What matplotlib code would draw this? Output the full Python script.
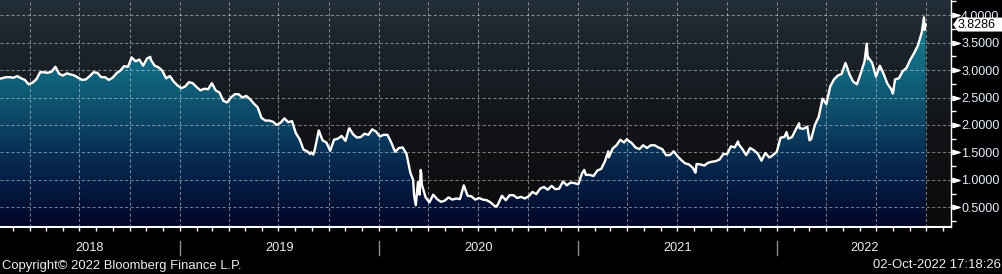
import numpy as np
import pandas as pd
import matplotlib
matplotlib.use('Agg')
import matplotlib.pyplot as plt
import matplotlib.dates as mdates
from matplotlib.colors import LinearSegmentedColormap
from matplotlib.transforms import blended_transform_factory, IdentityTransform
from matplotlib.patches import Polygon
from matplotlib.ticker import MultipleLocator, FixedLocator, FuncFormatter, NullFormatter

# ---------------- data (weekly closes) ----------------
vals_2018 = [2.84, 2.85, 2.87, 2.87, 2.86, 2.89, 2.85, 2.82, 2.74, 2.77, 2.83, 2.96,
             2.96, 2.95, 2.97, 3.06, 2.93, 2.90, 2.94, 2.92, 2.90, 2.86, 2.82, 2.83,
             2.89, 2.96, 2.95, 2.87, 2.87, 2.82, 2.86, 2.94, 2.99, 3.07, 3.06, 3.23,
             3.16, 3.19, 3.08, 3.21, 3.19, 3.08, 3.05, 2.99, 2.85, 2.89, 2.79, 2.72]
vals_2019 = [2.67, 2.70, 2.78, 2.76, 2.69, 2.63, 2.66, 2.65, 2.76, 2.63, 2.59, 2.44,
             2.41, 2.50, 2.56, 2.56, 2.50, 2.53, 2.47, 2.39, 2.32, 2.13, 2.08, 2.08,
             2.06, 2.00, 2.04, 2.12, 2.05, 2.07, 1.85, 1.74, 1.55, 1.52, 1.50, 1.56,
             1.90, 1.72, 1.68, 1.53, 1.73, 1.75, 1.80, 1.71, 1.94, 1.83, 1.77, 1.78,
             1.84, 1.82, 1.92, 1.88]
vals_2020 = [1.79, 1.82, 1.82, 1.68, 1.51, 1.58, 1.59, 1.47, 1.13, 0.71, 0.96, 0.92,
             0.68, 0.59, 0.73, 0.65, 0.60, 0.62, 0.68, 0.64, 0.66, 0.65, 0.90, 0.71,
             0.70, 0.64, 0.67, 0.64, 0.63, 0.59, 0.53, 0.56, 0.71, 0.63, 0.72, 0.72,
             0.67, 0.69, 0.66, 0.70, 0.78, 0.74, 0.84, 0.87, 0.82, 0.89, 0.83, 0.84,
             0.97, 0.90, 0.95, 0.94]
vals_2021 = [0.92, 1.12, 1.09, 1.09, 1.07, 1.17, 1.20, 1.34, 1.41, 1.57, 1.63, 1.73,
             1.68, 1.72, 1.67, 1.59, 1.56, 1.63, 1.58, 1.63, 1.63, 1.59, 1.56, 1.45,
             1.45, 1.52, 1.43, 1.36, 1.30, 1.28, 1.22, 1.29, 1.28, 1.26, 1.31, 1.33,
             1.34, 1.37, 1.47, 1.47, 1.61, 1.59, 1.65, 1.56, 1.45, 1.58, 1.54, 1.48,
             1.35, 1.49, 1.41, 1.45, 1.51]
vals_2022 = [1.77, 1.78, 1.75, 1.78, 1.92, 1.94, 1.93, 1.97, 1.74, 2.00, 2.15, 2.48,
             2.38, 2.70, 2.83, 2.90, 2.93, 3.13, 2.93, 2.79, 2.74, 2.94, 3.16, 3.23,
             3.13, 2.88, 3.08, 2.93, 2.75, 2.65, 2.83, 2.85, 2.98, 3.04, 3.19, 3.31,
             3.45, 3.69, 3.8286]
year_starts = ['2018-02-02', '2019-01-04', '2020-01-03', '2021-01-01', '2022-01-07']
year_vals = [vals_2018, vals_2019, vals_2020, vals_2021, vals_2022]

# intra-week extremes visible on the chart
extra_dates = ['2018-11-08', '2019-08-28', '2019-09-03', '2019-11-07',
               '2020-03-04', '2020-03-09', '2020-03-16', '2020-03-18', '2020-03-19',
               '2020-08-04', '2021-01-12', '2021-02-25', '2021-03-31', '2021-08-04',
               '2021-10-21', '2021-12-20', '2022-01-18', '2022-02-10', '2022-03-01',
               '2022-05-09', '2022-05-26', '2022-06-14', '2022-06-16', '2022-08-01',
               '2022-09-27', '2022-09-28', '2022-09-29']
extra_vals = [3.24, 1.47, 1.46, 1.92,
              1.00, 0.54, 0.73, 1.18, 1.12,
              0.51, 1.18, 1.52, 1.74, 1.13,
              1.70, 1.42, 1.87, 2.03, 1.72,
              3.05, 2.75, 3.48, 3.20, 2.57,
              3.96, 3.73, 3.78]

year_labels = ['2018', '2019', '2020', '2021', '2022']
y_ticks = [0.5, 1.0, 1.5, 2.0, 2.5, 3.0, 3.5, 4.0]
last_label = '3.8286'

# ---------------- build series ----------------
idx, vv = [], []
for s, v in zip(year_starts, year_vals):
    idx.extend(pd.date_range(s, periods=len(v), freq='7D'))
    vv.extend(v)
series = pd.Series(vv, index=pd.DatetimeIndex(idx))
extra = pd.Series(extra_vals, index=pd.to_datetime(extra_dates))
series = pd.concat([series, extra]).sort_index()
series = series[~series.index.duplicated(keep='last')]
xs = mdates.date2num(series.index.to_pydatetime())
ys = series.values

# ---------------- figure ----------------
W, H = 1003, 274
DPI = 100
plt.rcParams['font.family'] = ['Liberation Sans', 'DejaVu Sans']
fig = plt.figure(figsize=(W / DPI, H / DPI), dpi=DPI, facecolor='black')
ax_bottom_px = 47.3
ax = fig.add_axes([0, ax_bottom_px / H, 951 / W, 1 - ax_bottom_px / H])
ax.set_facecolor('black')

base = mdates.date2num(pd.Timestamp('2019-01-01'))
ppd = (777.3 - 179.7) / 1096.0
x0 = base - 179.7 / ppd
x1 = base + (951 - 179.7) / ppd
ymin, ymax = 0.1466, 4.276

# background gradient
bg_cmap = LinearSegmentedColormap.from_list('bg', [(0.0, '#0b0b0d'), (0.45, '#121417'),
                                                    (1.0, '#222e38')])
grad = np.linspace(1, 0, 256).reshape(-1, 1)
ax.imshow(grad, cmap=bg_cmap, extent=[x0, x1, ymin, ymax], aspect='auto',
          zorder=0, interpolation='bilinear', vmin=0, vmax=1)

# fill gradient clipped to area under curve
def vnorm(v):
    return (v - ymin) / (ymax - ymin)
fill_cmap = LinearSegmentedColormap.from_list('fill', [
    (0.0, '#010528'), (vnorm(1.0), '#051e44'), (vnorm(1.5), '#082f55'),
    (vnorm(2.2), '#0d4b69'), (vnorm(2.9), '#11647d'), (vnorm(3.5), '#147387'),
    (1.0, '#198595')])
poly = ax.fill_between(xs, ys, ymin, facecolor='none', edgecolor='none')
path = poly.get_paths()[0]
im = ax.imshow(grad, cmap=fill_cmap, extent=[x0, x1, ymin, ymax], aspect='auto',
               zorder=1, interpolation='bilinear', vmin=0, vmax=1)
im.set_clip_path(path, transform=ax.transData)

ax.plot(xs, ys, color='white', lw=1.7, zorder=3, solid_joinstyle='round')

ax.set_xlim(x0, x1)
ax.set_ylim(ymin, ymax)

# grid
ax.set_axisbelow(False)
ax.xaxis.set_major_locator(mdates.MonthLocator(bymonth=[1, 4, 7, 10]))
ax.xaxis.set_minor_locator(mdates.MonthLocator())
ax.xaxis.set_major_formatter(NullFormatter())
ax.xaxis.set_minor_formatter(NullFormatter())
ax.yaxis.tick_right()
ax.yaxis.set_major_locator(FixedLocator(y_ticks))
ax.yaxis.set_minor_locator(MultipleLocator(0.25))
ax.yaxis.set_major_formatter(FuncFormatter(lambda v, p: f'{v:.4f}'))
ax.grid(True, which='major', color='#e2e8e8', alpha=0.5, linestyle=(0, (3, 2.2)), lw=0.75)

ax.tick_params(axis='x', which='both', direction='out', length=2.8, width=1,
               color='white', bottom=True, top=False)
ax.tick_params(axis='y', which='major', length=0, pad=7.3, labelsize=9,
               labelcolor='#e4eefa', right=True, left=False)
ax.tick_params(axis='y', which='minor', length=3.5, width=1, color='white',
               right=True, left=False)

for s in ['top', 'left']:
    ax.spines[s].set_visible(False)
ax.spines['bottom'].set_color('white')
ax.spines['bottom'].set_linewidth(1.5)
ax.spines['right'].set_color('white')
ax.spines['right'].set_linewidth(1.0)

# triangle markers at major y ticks
tri = [(-1, -0.6), (1, 0), (-1, 0.6), (-1, -0.6)]
tr_y = blended_transform_factory(ax.transAxes, ax.transData)
ax.plot([1 + 4.8 / 951] * len(y_ticks), y_ticks, linestyle='none', marker=tri,
        ms=5.2, color='white', transform=tr_y, clip_on=False, zorder=5)

# year separators & labels
tr_x = blended_transform_factory(ax.transData, fig.transFigure)
bounds = [x0] + [mdates.date2num(pd.Timestamp(f'{y}-01-01')) for y in range(2019, 2023)] + [x1]
for b in bounds[1:-1]:
    ax.plot([b, b], [(H - 255) / H, (H - 241) / H], color='#8c8c8c', lw=1,
            transform=tr_x, clip_on=False)
for i, lab in enumerate(year_labels):
    c = 0.5 * (bounds[i] + bounds[i + 1])
    ax.text(c, (H - 248) / H, lab, transform=tr_x, ha='center', va='center',
            fontsize=9.2, color='#ededed')

fig.text(2 / W, (H - 265.5) / H, 'Copyright\u00a9 2022 Bloomberg Finance L.P.',
         ha='left', va='center', fontsize=9.35, color='#ededed')
fig.text(1001 / W, (H - 265.5) / H, '02-Oct-2022 17:18:26',
         ha='right', va='center', fontsize=9.45, color='#ededed')

# last value tag
fig.canvas.draw()
last_v = ys[-1]
_, yd = ax.transData.transform((x1, last_v))
xa = 951 + 2
verts = [(xa, yd), (xa + 5, yd + 7), (W - 1, yd + 7), (W - 1, yd - 7), (xa + 5, yd - 7)]
fig.add_artist(Polygon(verts, closed=True, facecolor='white', edgecolor='none',
                       transform=IdentityTransform(), zorder=10))
fig.text((xa + 5) / W, yd / H, last_label, ha='left', va='center', fontsize=9,
         color='black', zorder=11)

fig.savefig('out.png', dpi=DPI, facecolor='black')
